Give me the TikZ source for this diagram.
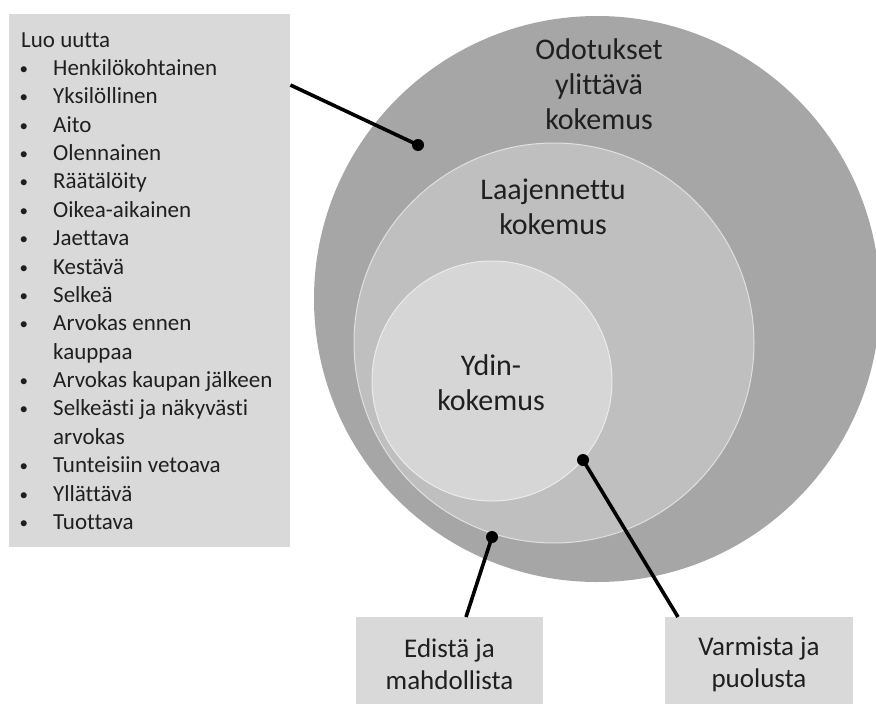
\documentclass[tikz,border=0pt]{standalone}
\usepackage{fontspec}
\setmainfont{Carlito}[Ligatures=NoCommon]
\begin{document}
\begin{tikzpicture}[x=1pt,y=-1pt,
  every node/.style={text=black!88},
  panel/.style={rectangle, fill=black!15, draw=none, inner sep=0pt, anchor=north west},
  ring/.style={circle, inner sep=0pt},
  ringtext/.style={align=center, font=\fontsize{30}{35}\selectfont},
  listline/.style={anchor=base west, inner sep=0pt, font=\fontsize{23}{28}\selectfont},
  boxtext/.style={align=center, font=\fontsize{27}{32}\selectfont},
  pin/.style={circle, fill=black, inner sep=0pt, minimum size=12pt},
  leader/.style={line width=3.6pt, black}
]
\useasboundingbox (0,0) rectangle (876,704);

% concentric experience levels
\node[ring, fill=black!35, minimum size=566pt] (outer) at (597,299) {};
\node[ring, fill=black!25, draw=black!12, line width=1pt, minimum size=400pt] (middle) at (554,343) {};
\node[ring, fill=black!16, draw=black!8, line width=1pt, minimum size=240pt] (inner) at (492,381) {};

\node[ringtext] (outerlbl) at (599,84) {Odotukset\\ylittävä\\kokemus};
\node[ringtext] (middlelbl) at (553,207) {Laajennettu\\kokemus};
\node[ringtext] (innerlbl) at (491,383) {Ydin-\\kokemus};

% list panel on the left
\node[panel, minimum width=281pt, minimum height=533pt] (listbox) at (9,14) {};
\newcommand{\blt}{\makebox[32pt][l]{\hspace{-1.5pt}\raisebox{1pt}{\fontsize{17}{17}\selectfont •}}}
\newcommand{\cont}{\hspace*{32pt}}
\node[listline] (l0)  at (21,47)       {Luo uutta};
\node[listline] (l1)  at (21,75.4)     {\blt Henkilökohtainen};
\node[listline] (l2)  at (21,103.8)    {\blt Yksilöllinen};
\node[listline] (l3)  at (21,132.1)    {\blt Aito};
\node[listline] (l4)  at (21,160.5)    {\blt Olennainen};
\node[listline] (l5)  at (21,188.9)    {\blt Räätälöity};
\node[listline] (l6)  at (21,217.3)    {\blt Oikea-aikainen};
\node[listline] (l7)  at (21,245.6)    {\blt Jaettava};
\node[listline] (l8)  at (21,274.0)    {\blt Kestävä};
\node[listline] (l9)  at (21,302.4)    {\blt Selkeä};
\node[listline] (l10) at (21,330.8)    {\blt Arvokas ennen};
\node[listline] (l11) at (21,359.1)    {\cont kauppaa};
\node[listline] (l12) at (21,387.5)    {\blt Arvokas kaupan jälkeen};
\node[listline] (l13) at (21,415.9)    {\blt Selkeästi ja näkyvästi};
\node[listline] (l14) at (21,444.3)    {\cont arvokas};
\node[listline] (l15) at (21,472.6)    {\blt Tunteisiin vetoava};
\node[listline] (l16) at (21,501.0)    {\blt Yllättävä};
\node[listline] (l17) at (21,529.4)    {\blt Tuottava};

% boxes below the circles
\node[panel, minimum width=187pt, minimum height=87pt] (boxL) at (356,617) {};
\node[boxtext] (boxLtext) at (449.5,664) {Edistä ja\\mahdollista};
\node[panel, minimum width=188pt, minimum height=87pt] (boxR) at (665,617) {};
\node[boxtext] (boxRtext) at (759,664) {Varmista ja\\puolusta};

% pins and leader lines
\node[pin] (p1) at (418,145) {};
\node[pin] (p2) at (492,537) {};
\node[pin] (p3) at (583,460) {};
\draw[leader] (p1.center) -- ([yshift=-71pt]listbox.north east);
\draw[leader] (p2.center) -- ([xshift=110pt]boxL.north west);
\draw[leader] (p3.center) -- ([xshift=13pt]boxR.north west);
\end{tikzpicture}
\end{document}
